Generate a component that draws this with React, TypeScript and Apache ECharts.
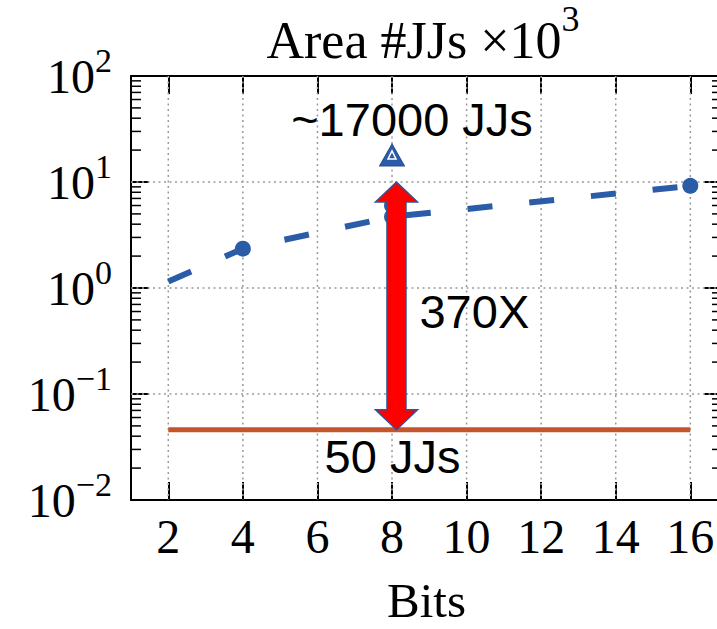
import React, { useEffect, useRef } from 'react';
import * as echarts from 'echarts';

// ---- axis ranges & ticks ----
const X_MIN = 1;
const X_MAX = 16.85;
const Y_MIN = 0.01;
const Y_MAX = 100;
const bitTicks = [2, 4, 6, 8, 10, 12, 14, 16];
const decadeGrid = [0.1, 1, 10];
const decadeStarts = [0.01, 0.1, 1, 10];
const minorMultipliers = [2, 3, 4, 5, 6, 7, 8, 9];

// ---- data (values in units of 10^3 JJs) ----
const areaBits = [2, 4, 8, 16];
const areaValues = [1.15, 2.35, 4.7, 9.2];
const extraBits = [8];
const extraValues = [6.0];
const triangleBits = [8];
const triangleValues = [18];
const baselineBits = [2, 16];
const baselineValues = [0.046, 0.046];
const arrowBit = 8.12;
const arrowFrom = 0.046;
const arrowTo = 10;

const BLUE = '#2A5CA8';
const ORANGE = '#C5552B';
const SERIF = 'Liberation Serif';
const SANS = 'Liberation Sans';

const minorValues = decadeStarts.flatMap((d) =>
  minorMultipliers.map((m) => Number((d * m).toPrecision(3)))
);

const supText = (exp: number) => (exp < 0 ? '\u2212' + String(-exp) : String(exp));

export default function App() {
  const ref = useRef<HTMLDivElement>(null);

  useEffect(() => {
    if (!ref.current) return;
    const chart = echarts.init(ref.current, undefined, { renderer: 'svg' });

    const axisLineStyle = { color: '#000', width: 2 };

    const yRich = {
      b: { fontSize: 48, fontFamily: SERIF, color: '#000', lineHeight: 66, verticalAlign: 'middle' },
      s: { fontSize: 34, fontFamily: SERIF, color: '#000', lineHeight: 34, verticalAlign: 'top' },
    };

    const option: any = {
      animation: false,
      textStyle: { fontFamily: SERIF },
      grid: { left: 131, right: -5, top: 76, bottom: 129, containLabel: false, outerBoundsMode: 'none' },
      graphic: [
        {
          type: 'text',
          x: 423,
          y: 40,
          style: {
            text: '{b|Area #JJs \u00D710}{s|3}',
            align: 'center',
            verticalAlign: 'middle',
            rich: {
              b: { fontSize: 52, fontFamily: SERIF, fill: '#000', lineHeight: 78, verticalAlign: 'middle' },
              s: { fontSize: 36, fontFamily: SERIF, fill: '#000', lineHeight: 36, verticalAlign: 'top' },
            },
          },
        },
      ],
      xAxis: [
        {
          type: 'value',
          min: X_MIN,
          max: X_MAX,
          position: 'bottom',
          axisLine: { show: true, onZero: false, lineStyle: axisLineStyle },
          axisTick: { show: true, inside: true, length: 18, customValues: bitTicks, lineStyle: { color: '#000', width: 2 } },
          axisLabel: { show: true, customValues: bitTicks, margin: 12, fontSize: 48, fontFamily: SERIF, color: '#000' },
          splitLine: { show: false },
          name: 'Bits',
          nameLocation: 'middle',
          nameGap: 78,
          nameTextStyle: { fontSize: 49, lineHeight: 44, fontFamily: SERIF, color: '#000' },
        },
        {
          type: 'value',
          min: X_MIN,
          max: X_MAX,
          position: 'top',
          axisLine: { show: true, onZero: false, lineStyle: axisLineStyle },
          axisTick: { show: true, inside: true, length: 18, customValues: bitTicks, lineStyle: { color: '#000', width: 2 } },
          axisLabel: { show: false },
          splitLine: { show: false },
        },
      ],
      yAxis: [
        {
          type: 'log',
          logBase: 10,
          min: Y_MIN,
          max: Y_MAX,
          position: 'left',
          axisLine: { show: true, onZero: false, lineStyle: axisLineStyle },
          axisTick: { show: true, inside: true, length: 18, lineStyle: { color: '#000', width: 2 } },
          axisLabel: {
            show: true,
            margin: 19,
            formatter: (v: number) => '{b|10}{s|' + supText(Math.round(Math.log10(v))) + '}',
            rich: yRich,
          },
          splitLine: { show: false },
        },
        {
          type: 'log',
          logBase: 10,
          min: Y_MIN,
          max: Y_MAX,
          position: 'right',
          axisLine: { show: true, onZero: false, lineStyle: axisLineStyle },
          axisTick: { show: true, inside: true, length: 18, lineStyle: { color: '#000', width: 2 } },
          axisLabel: { show: false },
          splitLine: { show: false },
        },
      ],
      series: [
        {
          name: 'vgrid',
          type: 'custom',
          silent: true,
          z: 1,
          data: bitTicks.map((v) => [v, 1]),
          renderItem: (_p: any, api: any) => {
            const v = api.value(0);
            const a = api.coord([v, Y_MAX]);
            const b = api.coord([v, Y_MIN]);
            return {
              type: 'line',
              shape: { x1: a[0], y1: a[1], x2: b[0], y2: b[1] },
              style: { stroke: '#9a9a9a', lineWidth: 1.5, lineDash: [2, 3.5] },
            };
          },
        },
        {
          name: 'hgrid',
          type: 'custom',
          silent: true,
          z: 1,
          data: decadeGrid.map((v) => [X_MIN, v]),
          renderItem: (_p: any, api: any) => {
            const v = api.value(1);
            const a = api.coord([X_MIN, v]);
            const b = api.coord([X_MAX, v]);
            return {
              type: 'line',
              shape: { x1: a[0], y1: a[1], x2: b[0], y2: b[1] },
              style: { stroke: '#9a9a9a', lineWidth: 1.5, lineDash: [2, 3.5] },
            };
          },
        },
        {
          name: 'minorTicks',
          type: 'custom',
          silent: true,
          z: 3,
          data: minorValues.map((v) => [X_MIN, v]),
          renderItem: (_p: any, api: any) => {
            const v = api.value(1);
            const l = api.coord([X_MIN, v]);
            const r = api.coord([X_MAX, v]);
            return {
              type: 'group',
              children: [
                { type: 'line', shape: { x1: l[0], y1: l[1], x2: l[0] + 10, y2: l[1] }, style: { stroke: '#000', lineWidth: 1.5 } },
                { type: 'line', shape: { x1: r[0], y1: r[1], x2: r[0] - 10, y2: r[1] }, style: { stroke: '#000', lineWidth: 1.5 } },
              ],
            };
          },
        },
        {
          name: 'baseline',
          type: 'line',
          z: 4,
          data: baselineBits.map((b, i) => [b, baselineValues[i]]),
          symbol: 'none',
          lineStyle: { color: ORANGE, width: 5 },
        },
        {
          name: 'area',
          type: 'line',
          z: 5,
          data: areaBits.map((b, i) =>
            i === 0 ? { value: [b, areaValues[i]], symbol: 'none' } : [b, areaValues[i]]
          ),
          symbol: 'circle',
          symbolSize: 16,
          showAllSymbol: true,
          itemStyle: { color: BLUE },
          lineStyle: { color: BLUE, width: 6, type: [25, 37], cap: 'butt' },
        },
        {
          name: 'areaExtra',
          type: 'scatter',
          z: 5,
          data: extraBits.map((b, i) => [b, extraValues[i]]),
          symbol: 'circle',
          symbolSize: 16,
          itemStyle: { color: BLUE, opacity: 1 },
        },
        {
          name: 'baselineTriangle',
          type: 'scatter',
          z: 6,
          data: triangleBits.map((b, i) => [b, triangleValues[i]]),
          symbol: 'triangle',
          symbolSize: [25, 22],
          itemStyle: { color: BLUE, borderColor: '#25508f', borderWidth: 1, opacity: 1 },
          label: {
            show: true,
            formatter: '~17000 JJs',
            position: 'top',
            distance: 0,
            offset: [20, 0],
            fontSize: 47,
            fontFamily: SANS,
            color: '#000',
          },
        },
        {
          name: 'baselineTriangleInner',
          type: 'scatter',
          z: 7,
          silent: true,
          data: triangleBits.map((b, i) => [b, triangleValues[i]]),
          symbol: 'triangle',
          symbolSize: 8,
          itemStyle: { color: BLUE, borderColor: '#ffffff', borderWidth: 1.5, opacity: 1 },
        },
        {
          name: 'arrow',
          type: 'custom',
          z: 8,
          silent: true,
          data: [[arrowBit, arrowFrom, arrowTo]],
          renderItem: (_p: any, api: any) => {
            const top = api.coord([api.value(0), api.value(2)]);
            const bot = api.coord([api.value(0), api.value(1)]);
            const cx = top[0];
            const t = top[1];
            const b = bot[1];
            const hw = 21;
            const sw = 9.5;
            const hl = 20;
            const points = [
              [cx, t],
              [cx + hw, t + hl],
              [cx + sw, t + hl],
              [cx + sw, b - hl],
              [cx + hw, b - hl],
              [cx, b],
              [cx - hw, b - hl],
              [cx - sw, b - hl],
              [cx - sw, t + hl],
              [cx - hw, t + hl],
            ];
            return {
              type: 'group',
              children: [
                {
                  type: 'polygon',
                  shape: { points },
                  style: { fill: '#FF0000', stroke: '#2F5597', lineWidth: 1.5 },
                },
                {
                  type: 'text',
                  x: cx + 23,
                  y: (t + b) / 2 + 6,
                  style: { text: '370X', fill: '#000', fontSize: 47, fontFamily: SANS, align: 'left', verticalAlign: 'middle' },
                },
                {
                  type: 'text',
                  x: cx - 4,
                  y: b + 27,
                  style: { text: '50 JJs', fill: '#000', fontSize: 47, fontFamily: SANS, align: 'center', verticalAlign: 'middle' },
                },
              ],
            };
          },
        },
      ],
    };

    chart.setOption(option);
    return () => chart.dispose();
  }, []);

  return (
    <div
      ref={ref}
      style={{ position: 'fixed', left: 0, top: 0, width: 717, height: 629, background: '#fff' }}
    />
  );
}
